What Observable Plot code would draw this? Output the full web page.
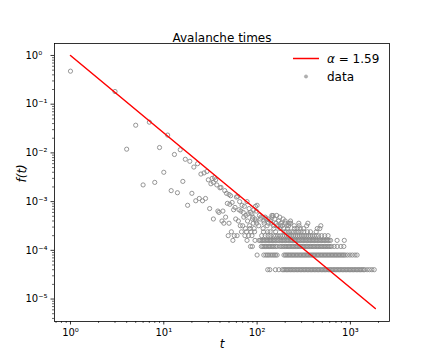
<!DOCTYPE html>
<html><head><meta charset="utf-8">
<script src="https://cdn.jsdelivr.net/npm/d3@7"></script>
<script src="https://cdn.jsdelivr.net/npm/@observablehq/plot@0.6"></script>
<style>body{margin:0;background:#fff} svg{display:block}</style>
</head><body><div id="chart"></div>
<script>
// ---- data ----
const title = "Avalanche times";
const xLabel = "t";
const yLabel = "f(t)";
const legendLabels = ["= 1.59", "data"];
const totalAvalanches = 25000;

// fitted power law, alpha = 1.59 (end points of the drawn line)
const fitT = [1, 1850];
const fitF = [1, 6.4e-6];

// [duration t, number of avalanches] for the upper scattered points
const upperPoints = [
  [1,11900],[3,4550],[4,298],[5,925],[6,55],[7,1068],[8,62],[9,322],[10,100],[11,580],
  [12,42],[13,232],[14,38],[15,290],[16,65],[17,185],[18,21],[19,168],[20,37],[21,128],
  [22,26],[23,150],[24,29],[25,92],[26,26],[27,97],[28,29],[29,104],[30,70],[31,18],
  [32,58],[33,75],[34,62],[35,78],[36,70],[37,55],[38,16],[39,15],[40,48],[41,49],
  [43,16],[45,42],[47,37],[48,23],[50,35],[51,22],[52,33],[54,24],[56,17],[58,19],
  [60,31],[62,32],[64,17],[65,25],[67,16],[69,21],[71,15],[73,20],[76,13],[78,25],
  [80,14],[82,18],[85,15],[88,14],[92,17],[96,20],[98,16],[100,21],[106,13],[144,13],
  [148,13],[162,13]
];

// durations that occurred exactly k times
const level12 = [46, 72, 90, 110, 122, 145, 175];
const level11 = [34, 59, 89, 95, 108, 125, 131, 155, 190];
const level10 = [42, 63, 79, 97, 118, 139, 170, 200, 228];
const level9 = [44, 50, 91, 99, 119, 132, 142, 160, 180, 201, 220, 229, 280, 350];
const level8 = [66, 70, 83, 104, 128, 150, 164, 178, 186, 209, 218, 250, 282, 340, 482];
const level7 = [75, 84, 93, 116, 151, 176, 193, 212, 252, 269, 290, 315, 441, 470];
const level6 = [53, 68, 77, 86, 94, 117, 130, 138, 158, 195, 205, 219, 232, 245, 262, 278, 296, 317, 346, 373, 430];
const level5 = [49, 57, 61, 74, 81, 88, 112, 122, 131, 140, 150, 158, 167, 177, 187, 196, 206, 215, 225, 236, 247, 259, 271, 283, 297, 311, 325, 340, 356, 372, 390, 409, 431, 456, 491, 531, 576];
const level4 = [55, 78, 95, 105, 109, 113, 117, 121, 126, 130, 135, 139, 144, 149, 154, 160, 166, 172, 179, 185, 191, 198, 205, 212, 219, 227, 234, 242, 251, 259, 268, 277, 287, 297, 308, 318, 329, 341, 352, 365, 377, 391, 404, 419, 433, 449, 464, 481, 497, 515, 533, 552, 571, 591, 612, 720, 860];
const level3 = [85, 89, 111, 115, 119, 123, 127, 132, 136, 141, 146, 151, 157, 163, 174, 181, 188, 195, 202, 209, 216, 223, 231, 239, 247, 256, 265, 274, 284, 294, 304, 315, 326, 337, 349, 361, 374, 387, 400, 414, 429, 444, 459, 475, 492, 509, 527, 545, 564, 584, 604, 625, 670, 722, 790, 850];
const level2 = [100, 118, 124, 129, 134, 140, 146, 152, 158, 164, 194, 201, 208, 215, 222, 230, 238, 246, 255, 264, 273, 283, 293, 303, 314, 325, 336, 348, 360, 373, 386, 399, 413, 428, 443, 458, 474, 491, 508, 526, 544, 563, 583, 603, 624, 646, 669, 692, 716, 741, 767, 794, 822, 851, 881, 930, 990, 1050, 1120, 1180];
const level1 = [130, 137, 157, 171, 186, 193, 199, 206, 213, 220, 228, 236, 244, 253, 262, 271, 281, 291, 301, 312, 323, 334, 346, 358, 371, 384, 397, 411, 426, 441, 456, 472, 489, 506, 524, 542, 561, 581, 601, 622, 644, 667, 690, 714, 739, 765, 792, 820, 849, 879, 910, 942, 975, 1009, 1044, 1081, 1119, 1158, 1199, 1241, 1284, 1329, 1376, 1420, 1510, 1600, 1700, 1800];

// axes
const xDomain = [0.674, 2624];
const yDomain = [3.46e-6, 1.76];
const xTicks = [1, 10, 100, 1000];
const yTicks = [1e-5, 1e-4, 1e-3, 1e-2, 1e-1, 1];

// ---- build table ----
const levels = [[1, level1], [2, level2], [3, level3], [4, level4], [5, level5], [6, level6],
  [7, level7], [8, level8], [9, level9], [10, level10], [11, level11], [12, level12]];
const points = upperPoints.map(([t, c]) => ({t, f: c / totalAvalanches}));
for (const [k, ts] of levels) for (const t of ts) points.push({t, f: k / totalAvalanches});
const fitData = fitT.map((t, i) => ({t, f: fitF[i]}));

const minorOf = (lo, hi) => {
  const out = [];
  for (let e = Math.floor(Math.log10(lo)); e <= Math.ceil(Math.log10(hi)); e++)
    for (let m = 2; m <= 9; m++) { const v = m * Math.pow(10, e); if (v >= lo && v <= hi) out.push(v); }
  return out;
};
const xMinor = minorOf(xDomain[0], xDomain[1]);
const yMinor = minorOf(yDomain[0], yDomain[1]);

const supMap = {"-": "\u207B", "0": "\u2070", "1": "\u00B9", "2": "\u00B2", "3": "\u00B3", "4": "\u2074", "5": "\u2075", "6": "\u2076"};
const fmt = v => "10" + String(Math.round(Math.log10(v))).split("").map(ch => supMap[ch]).join("");

const chart = Plot.plot({
  width: 432, height: 360,
  marginLeft: 54, marginRight: 43, marginTop: 43, marginBottom: 39,
  style: {fontFamily: "DejaVu Sans, sans-serif", fontSize: "10px", background: "white", color: "black"},
  x: {type: "log", domain: xDomain, label: null},
  y: {type: "log", domain: yDomain, label: null},
  marks: [
    Plot.dot(points, {x: "t", y: "f", r: 2.1, stroke: "#8a8a8a", strokeWidth: 0.9, fill: "none"}),
    Plot.line(fitData, {x: "t", y: "f", stroke: "#ff0000", strokeWidth: 1.5}),
    Plot.frame({stroke: "black", strokeWidth: 0.8}),
    Plot.axisX(xMinor, {tickSize: 2, tickFormat: () => "", strokeWidth: 0.6, label: null}),
    Plot.axisX(xTicks, {tickSize: 3.5, tickPadding: 3.5, tickFormat: fmt, fontSize: 10, strokeWidth: 0.8, label: null}),
    Plot.axisY(yMinor, {tickSize: 2, tickFormat: () => "", strokeWidth: 0.6, label: null}),
    Plot.axisY(yTicks, {tickSize: 3.5, tickFormat: () => "", strokeWidth: 0.8, label: null}),
    Plot.text(yTicks, {y: d => d, text: fmt, frameAnchor: "left", textAnchor: "start", dx: -29, fontSize: 10}),
    Plot.text([xLabel], {frameAnchor: "bottom", dy: 26, fontStyle: "italic", fontSize: 12}),
    Plot.text([yLabel], {frameAnchor: "left", dx: -32, rotate: -90, fontStyle: "italic", fontSize: 12}),
    Plot.text([title], {frameAnchor: "top", dy: -10, fontSize: 12})
  ]
});

// legend (matplotlib style, no frame)
const svg = d3.select(chart);
const lg = svg.append("g").attr("font-family", "DejaVu Sans, sans-serif").attr("font-size", 12)
  .attr("text-anchor", "start").attr("fill", "black");
lg.append("line").attr("x1", 293).attr("x2", 319).attr("y1", 58.5).attr("y2", 58.5)
  .attr("stroke", "#ff0000").attr("stroke-width", 1.5);
const t1 = lg.append("text").attr("x", 327).attr("y", 62.5);
t1.append("tspan").attr("font-style", "italic").text("\u03B1");
t1.append("tspan").text(" " + legendLabels[0]);
lg.append("circle").attr("cx", 306).attr("cy", 76.5).attr("r", 1.6)
  .attr("fill", "#b0b0b0").attr("stroke", "#9a9a9a").attr("stroke-width", 0.6);
lg.append("text").attr("x", 327).attr("y", 80.5).text(legendLabels[1]);

document.getElementById("chart").appendChild(chart);
</script>
</body></html>
